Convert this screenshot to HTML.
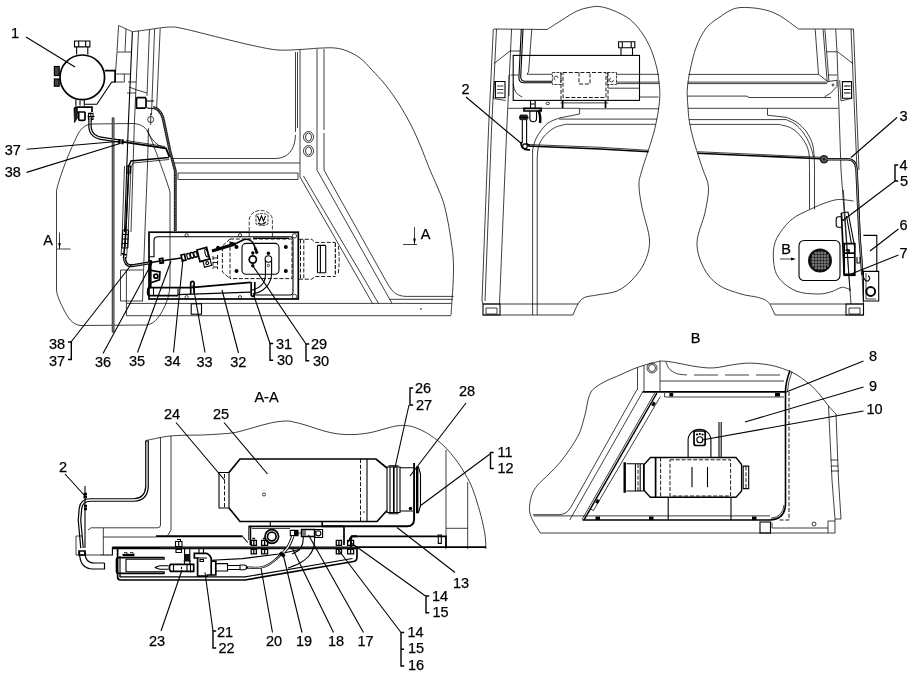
<!DOCTYPE html>
<html><head><meta charset="utf-8">
<style>
html,body{margin:0;padding:0;background:#fff;}
body{width:922px;height:679px;overflow:hidden;font-family:"Liberation Sans",sans-serif;}
svg{display:block}
.t{stroke:#000;stroke-width:.75;fill:none}
.m{stroke:#000;stroke-width:1.1;fill:none}
.k{stroke:#000;stroke-width:1.7;fill:none}
.kk{stroke:#000;stroke-width:2.4;fill:none}
.d{stroke:#000;stroke-width:.9;fill:none;stroke-dasharray:4 1.8}
.l{stroke:#000;stroke-width:1.1;fill:none}
.w{fill:#fff}
text{font-family:"Liberation Sans",sans-serif;font-size:14.5px;fill:#000;stroke:#000;stroke-width:.25px}
</style></head><body>
<svg width="922" height="679" viewBox="0 0 922 679">
<rect width="922" height="679" fill="#fff"/>
<g id="g1">
<!-- cab outline top-left view -->
<path class="t" d="M118.6,25.5 C120.9,26.5 130.1,30.7 132.4,31.7 M132.4,31.7 C135.1,31.4 142.4,30.4 148.6,29.6 C154.8,28.8 163.7,27.1 169.6,27.0 C175.5,26.9 175.6,27.0 184.0,28.8 C192.4,30.6 208.2,34.8 220.0,37.7 C231.8,40.6 245.3,44.0 255.0,46.0 C264.7,48.0 270.5,49.4 278.0,50.0 C285.5,50.6 293.3,49.8 300.0,49.5 C306.7,49.2 312.2,48.5 318.0,48.2 C323.8,48.0 330.2,47.5 335.0,48.0 C339.8,48.5 342.8,49.3 347.0,51.0 C351.2,52.7 355.8,54.8 360.0,58.0 C364.2,61.2 367.8,65.5 372.0,70.0 C376.2,74.5 381.0,79.3 385.5,85.0 C390.0,90.7 394.8,97.3 399.0,104.0 C403.2,110.7 407.4,118.0 411.0,125.0 C414.6,132.0 417.3,138.5 420.5,146.0 C423.7,153.5 427.2,163.3 430.0,170.0 C432.8,176.7 434.8,180.6 437.0,186.0 C439.2,191.4 441.7,196.5 443.5,202.5 C445.3,208.5 446.8,215.8 448.0,222.0 C449.2,228.2 450.2,234.5 451.0,240.0 C451.8,245.5 452.6,250.0 453.0,255.0 C453.4,260.0 453.5,265.0 453.5,270.0 C453.5,275.0 453.2,280.0 453.0,285.0 C452.8,290.0 452.3,295.0 452.0,300.0 C451.7,305.0 451.2,312.5 451.0,315.0"/>
<!-- pillar left group -->
<path class="t" d="M118.6,25.5 L117,51.5 M126,28.8 L125,51.5 M138.5,31 L134.3,125 L131,232 M149.4,29.6 L147,96 M154.6,29 L151.5,115 M160.2,28.5 L156.7,107"/>
<path class="m" d="M132.4,31.7 L128.3,125 L124.5,232"/>
<path class="t" d="M117,52 L131.4,52 M117,52 L115.4,74 L130.5,74 M115.4,74 L115.4,82 L124.3,82 L124.3,74"/>
<path class="t" d="M128,82 L136,82 M129,87 L137,90 L147,93 M127,93 L136,93"/>
<!-- accumulator 1 -->
<circle class="k" cx="82.300" cy="77.300" r="22.300"/>
<path class="m" d="M74.500,41 h15.400 v5.900 h-15.400 z M78.700,41 v5.900 M85.700,41 v5.900 M76.600,46.900 v7.500 M87.800,46.900 v7.500"/>
<rect x="54.400" y="66.500" width="4.800" height="9" fill="#444" stroke="#000" stroke-width="1.200"/>
<rect x="54.400" y="79" width="4.800" height="7.200" fill="#444" stroke="#000" stroke-width="1.200"/>
<path class="k" d="M104.600,70.700 H115.100 M115.100,69.800 V82.500"/>
<path class="m" d="M115,81.900 L111.600,82.200 L96.900,104.300 H85"/>
<path class="m" d="M75.900,99.500 v6.200 M84.300,99.500 v6.200 M80,100.500 v5"/>
<path class="k" d="M75.200,107.100 h16.800 v4.900 M75.200,107.100 v4.900 h10"/>
<path d="M74,108 h3.300 v10 l-2.800,4.500 z" fill="#222" stroke="#000" stroke-width=".8"/>
<path class="k" d="M78.700,112 v7 q0,1.400 1.500,1.400 h3.300 q1.500,0 1.500,-1.400 v-7"/>
<path class="m" d="M88.500,113.400 h4.500 v6 h-4.500 z M87.500,116.500 h7 M90.800,112.500 v8"/>
<!-- hose from valve -->
<path d="M90,117 V127 C90.500,135 96,138 104,138.800 L119,141" stroke="#000" stroke-width="3.500" fill="none"/>
<path d="M90,117 V127 C90.500,135 96,138 104,138.800 L119,141" stroke="#fff" stroke-width="1.100" fill="none"/>
<path class="kk" d="M119.500,139 v5 M122.500,139.300 v5"/>
<path d="M123,141.800 L166,148.300 L169.500,157" stroke="#000" stroke-width="1.8" fill="none"/>
<path class="t" d="M126,140.500 L165,146.500"/>
<path d="M169,157.500 L131,161 L128.800,166 L125.300,240 L123.500,258" stroke="#000" stroke-width="1.5" fill="none"/>
<path class="t" d="M169,159.500 L133,163 L131,168 L127.800,240 L126.500,258 M129,170 L125.800,236 M124.500,166 L122,240 L121,256"/>
<path class="m" d="M127,166 v7 h3.500 v-7 z M122.800,230 h5.800 M122.600,234.500 h5.800 M122.400,239 h5.800 M122.200,243.500 h5.800 M122,248 h5.800 M122.800,230 l-.8,18 M128.600,230 l-.8,18 M125.700,230 l-.8,18"/><path class="k" d="M121.500,253.500 l5,1.500"/>
<!-- tank outline thin -->
<path class="t" d="M56.500,290 V190.500 C60,175 70,150 78,134 C82,127 86,124.500 92,124 L133,123.500 C142,124 147,128 150,136 C156,152 166,178 170,192 V282 C170,296 166,305 160,315 C156,321 152,324.500 146,325 L80,325.500 C72,324 68,318 64,310 C60,302 57,296 56.500,290 Z"/>
<path class="t" d="M148.500,128 L147.500,165 L145,230 L142.500,301 M164,148 C156,145 150,138 147,130"/>
<!-- thick vertical bar -->
<path d="M113.100,117.500 V332.500" stroke="#222" stroke-width="2.700" fill="none"/><path d="M113.100,118.500 V331.500" stroke="#ccc" stroke-width=".700" fill="none"/>
<!-- upper fitting and grey hose -->
<path class="k" d="M136.500,97.600 h9.500 M136.500,97.600 v10.500 h9 M146,98 v10"/>
<path class="m" d="M146,101 h8 M147,108 l6,0.500"/>
<circle class="t" cx="150.700" cy="119.500" r="3"/><path class="t" d="M150.700,113 v12"/>
<path d="M153,107.500 C158,108 161,112 163,118 L170,151 L175.300,171 V231" stroke="#222" stroke-width="2.900" fill="none"/>
<path d="M153,107.500 C158,108 161,112 163,118 L170,151 L175.300,171 V231" stroke="#888" stroke-width=".900" fill="none" stroke-dasharray="1.200 1"/>
<!-- window lower-left corner & sills -->
<path class="t" d="M295.500,52 V132 M297.500,52 V128 M300,50 V177 M317,49 V170 M324,49 V130 M324,133 V170"/>
<path class="t" d="M171,158.500 H276 C288,158 295,150 295.500,135 M174,163 H300"/>
<rect class="t" x="178" y="173" width="120" height="6.500"/>
<ellipse class="t" cx="308.500" cy="137" rx="5" ry="5.500"/><ellipse class="t" cx="308.500" cy="137" rx="3" ry="4"/>
<ellipse class="t" cx="308.500" cy="151" rx="5" ry="5.500"/><ellipse class="t" cx="308.500" cy="151" rx="3" ry="4"/>
<!-- diagonals -->
<path class="t" d="M300,177 L372.500,303.400 M303.500,176 L378.500,303.400 M317,170 L392,303.400 M324,170 L386,281 C392,292 396,296 406,296.400 L453.500,296.400"/>
<path class="t" d="M389.500,299.300 H452.600"/>
<!-- floor lines -->
<path class="t" d="M126.400,303.400 H451.500 M126.400,315.700 H451 M126.400,270 V315.800 M120.500,270 H143 M120.500,270 V301 H143"/>
<circle cx="421" cy="309" r=".8" fill="#000"/>
<!-- plate -->
<rect x="149" y="232.200" width="149.300" height="66.800" fill="none" stroke="#000" stroke-width="1.700"/>
<path class="m" d="M158,236.800 H290 Q293,236.800 293,240 V291.500 Q293,295 290,295 H256 M149.500,256.800 H154 V240.300 Q154,236.800 158,236.800"/>
<g class="t">
<circle cx="186.600" cy="235.200" r="1.600"/><circle cx="240" cy="235.200" r="1.600"/><circle cx="294.500" cy="235.800" r="2.200"/>
<circle cx="186.600" cy="297.200" r="1.600"/><circle cx="240" cy="297.200" r="1.600"/><circle cx="294.500" cy="296.500" r="2.200"/>
</g>
<!-- dashed heater -->
<path class="d" d="M230,239 H292 V278.600 H230 Z M230,239 L222.400,246 V272 L230,278.600"/>
<path class="d" d="M299,239.300 H311.800 L315,242.400 H335.600 M299,279.200 H311.800 L315,276.500 H335.600 M300.500,239.500 V279 M303.800,239.500 V279 M338.300,246 Q340,259 338.300,273"/>
<path class="m" stroke-dasharray="4 1.500" d="M335.300,243 V276"/>
<path class="m" d="M317.500,245.400 H325.700 M317.500,272.800 H325.700 M317.500,245.400 V272.800 M320.400,245.400 V272.800 M325.700,245.400 V272.800"/>
<path class="t" stroke-dasharray="4 1.500" d="M249.200,231 V220 A11.600,9.600 0 0 1 272.400,220 V231 M249.200,233 v6 M272.400,233 v6"/>
<path class="t" stroke-dasharray="3 1" d="M256,215 q6,-3 12,0 v9 q-6,3 -12,0 z"/>
<path class="m" d="M257.500,216 l2,5 l2,-5 l2,5 l2,-5 M258,223 q4,3 8,-1"/>
<path d="M253,238.300 H289" stroke="#000" stroke-width="1.500" fill="none"/>
<!-- cover rounded rect -->
<rect class="m" x="242" y="243.400" width="37" height="30.800" rx="4"/>
<g fill="#000"><circle cx="236.500" cy="247" r="2"/><circle cx="285.800" cy="247" r="2"/><circle cx="236.500" cy="271" r="2"/><circle cx="285.800" cy="271" r="2"/>
<circle cx="252.800" cy="253" r="1.700"/><circle cx="252.800" cy="265.800" r="1.700"/><circle cx="268.400" cy="253.300" r="1.700"/></g>
<circle class="k" cx="252.800" cy="259.500" r="3.600"/>
<circle class="m" cx="268.400" cy="259" r="3.300"/><circle class="t" cx="268.400" cy="265.500" r="1.200"/>
<path class="m" d="M265.400,260.500 V276 C265,283 260,288.500 252,290 M271.600,260.500 V274 C271,284 264,292 254,293.500"/>
<!-- hose to pump -->
<path d="M256.500,254 L254.500,246 C252.500,240 248,238.500 244,239.500 L236,243.500" stroke="#000" stroke-width="1.600" fill="none"/>
<path class="kk" d="M255,247.500 l2.500,6"/>
<path d="M236,243.800 L212,251" stroke="#000" stroke-width="3" fill="none"/>
<circle cx="232" cy="244" r="2.200" fill="#000"/><circle cx="218" cy="247.500" r="1.800" fill="#000"/>
<!-- pump block -->
<g transform="rotate(-15 203.300 254.500)"><rect class="k" x="198.300" y="248.500" width="10" height="12"/><rect class="m" x="201.200" y="260.500" width="7.400" height="6.600"/><circle class="m" cx="204.900" cy="263.800" r="1.500"/><ellipse class="m" cx="206.700" cy="254" rx="1.300" ry="4"/></g>
<path class="d" d="M213,256 v13 M217.500,255 v14 M213,258 h4.500 M213,262.500 h4.500 M213,267 h4.500"/>
<!-- fittings left -->
<path class="k" d="M181,255 l3.500,-.800 l1.300,6 l-3.500,.800 z"/>
<path class="m" d="M185.500,254.300 l12,-3 M186.500,259.300 l12,-3"/>
<ellipse class="m" cx="188.500" cy="256.200" rx="1.500" ry="3" transform="rotate(-15 188.500 256.200)"/><ellipse class="m" cx="192" cy="255.300" rx="1.500" ry="3" transform="rotate(-15 192 255.300)"/><ellipse class="m" cx="195.500" cy="254.400" rx="1.500" ry="3" transform="rotate(-15 195.500 254.400)"/>
<path d="M124.500,257 C124.500,263 127,266 132,265.800 L150,262.800" stroke="#000" stroke-width="3.100" fill="none"/>
<path d="M124.500,257 C124.500,263 127,266 132,265.800 L150,262.800" stroke="#fff" stroke-width=".600" fill="none"/>
<path d="M150,262.600 L181.500,258" stroke="#000" stroke-width="1.500" fill="none"/>
<path d="M149,260.500 h3 v3.500 h-3 z" fill="#000"/>
<path class="k" d="M159.400,258.800 l3.300,-.500 l.7,4.400 l-3.300,.5 z"/>
<!-- mount bracket -->
<path d="M150.400,260 V287" stroke="#000" stroke-width="2.400" fill="none"/>
<path class="k" d="M151,270.300 L160,272 L159.400,279.800 L151,282.700"/><circle class="k" cx="155.900" cy="276.200" r="2"/>
<!-- bottom pipe -->
<path d="M190.600,287.600 H150.500 Q147.700,287.600 147.700,290.200 V293.200 Q147.700,295.700 150.500,295.700 H178" stroke="#000" stroke-width="1.700" fill="none"/>
<path class="k" d="M190.600,287.600 L250.600,282.300"/><path class="m" d="M178,294.600 L250.600,292.100"/>
<path class="m" d="M153.500,288 v7.700 M178,288.500 v7"/>
<path class="k" d="M190.700,294 V283 a1.700,1.700 0 0 1 3.400,0 V294 M251.200,282 V294.500 a1.800,1.800 0 0 0 3.600,0 V282"/>
<rect class="m" x="191.200" y="303.800" width="10.300" height="10.400"/>
<!-- section arrows A -->
<path class="t" d="M59.500,232.500 V249 M57,249 H70.500"/><path d="M59.500,249 l-1.300,-6 h2.600 z" fill="#000"/>
<path class="t" d="M414.500,227 V244.500 M403,244.500 H417"/><path d="M414.500,244.500 l-1.300,-6 h2.600 z" fill="#000"/>
</g>
<g id="g2">
<!-- ===== top middle view ===== -->
<path class="t" d="M493.800,29 L547.200,29.500 M547.2,29.5 C549.7,27.9 557.0,23.1 562.0,20.0 C567.0,16.9 572.3,13.1 577.0,11.0 C581.7,8.9 586.2,8.0 590.0,7.3 C593.8,6.6 595.9,6.0 600.0,6.6 C604.1,7.2 609.8,8.9 614.7,11.0 C619.6,13.1 625.1,15.7 629.5,19.1 C633.9,22.6 637.8,27.0 641.2,31.7 C644.6,36.4 647.5,41.6 650.0,47.1 C652.5,52.6 654.5,59.1 656.0,64.8 C657.5,70.5 658.3,75.1 658.9,81.0 C659.5,86.9 660.3,91.8 659.6,100.0 C658.9,108.2 657.4,118.3 654.5,130.0 C651.6,141.7 644.6,160.8 642.0,170.0 C639.4,179.2 639.0,178.8 639.0,185.0 C639.0,191.2 640.2,198.3 642.0,207.5 C643.8,216.7 649.1,230.8 649.5,240.0 C649.9,249.2 647.4,255.8 644.5,262.5 C641.6,269.2 636.6,275.2 632.0,280.0 C627.4,284.8 622.8,288.5 617.0,291.0 C611.2,293.5 602.4,293.9 597.0,295.0 C591.6,296.1 587.7,296.0 584.5,297.5 C581.3,299.0 579.9,301.1 578.0,304.0 C576.1,306.9 573.8,313.2 573.0,315.0"/>
<path class="t" d="M493.300,29 L488.500,130 L482,301 M496.500,29 L491.500,130 L485,301 M511.600,29 L506.700,130 L499.500,304"/>
<path class="t" d="M482,301 l1,3"/>
<path class="m" d="M521.300,29 L518.900,78 Q519,82.800 524,82.800 H552 M523,29 L520.700,77 Q521,81.300 525,81.300 H552"/>
<path class="t" d="M531.800,29 L528.600,71.800 L527,74.300 H552"/>
<path class="t" d="M493.800,63.700 L510,51 H520.500 M509,75 V96 M510.500,75 h8 M513.200,84 q1,10 9,13"/>
<rect class="m" x="513.200" y="55.400" width="126.300" height="45"/>
<path class="m" d="M618.600,41.800 h16.200 v5.900 h-16.200 z M621,47.700 v7.700 M632.500,47.700 v7.700 M622.300,41.800 v5.900 M631.200,41.800 v5.900"/>
<path class="t" d="M616.500,74.300 H659 M616.500,82.100 H659.300 M616.500,83.600 H659.300 M560.500,102.900 H608.300"/>
<path class="d" d="M563,72.500 H606 V97.500 H563 Z M579,72.500 V84 H590 V72.500 M561,72.500 V100 M608,72.500 V100"/>
<path class="t" stroke-dasharray="3 1" d="M552.400,72.500 h8.500 v12 h-8.500 z M607.500,72.500 h9 v12 h-9 z"/>
<path class="t" d="M558,78 a2,2 0 1 0 -2.500,2 M611,78 a2,2 0 1 0 2.500,2"/>
<path class="k" d="M562.600,100 V108 M605.500,100 V108"/>
<path class="t" d="M508.300,108.300 H579.600 V114 L559.400,118 M559.4,118.0 C557.5,118.8 551.2,120.7 548.0,123.0 C544.8,125.3 542.2,129.0 540.0,132.0 C537.8,135.0 536.2,138.0 535.0,141.0 C533.8,144.0 533.0,148.5 532.6,150.0 V315"/>
<path class="t" d="M579.600,108.800 H659 M559,119.100 H657 M567,124.300 H655.500 M608.300,88.200 H639.300 M639.500,97 H658.600 M567.0,124.0 C564.8,124.7 557.9,125.8 554.0,128.0 C550.1,130.2 546.1,133.8 543.5,137.0 C540.9,140.2 539.5,143.5 538.5,147.0 C537.5,150.5 537.4,156.2 537.2,158.0 V315"/>

<path class="m" d="M495.400,81.500 h9.600 v16.200 h-9.600 z"/><path class="t" d="M497,86 h6.500 M497,89.500 h6.500 M497,93 h6.500"/>
<path class="t" d="M494.500,81 l-1,17.500 l12,2"/>
<ellipse class="t" cx="547.700" cy="103.400" rx="1.800" ry="1.200"/>
<!-- valve -->
<path class="m" d="M530.500,100.500 v7.500 M535.200,100.500 v7.500 M531,104 h4"/><path class="k" d="M524,108.400 h17.200 v2.600 h-17.200 z"/><path class="m" d="M529.900,111 v7.500 q0,3.200 3.300,3.200 q3.300,0 3.300,-3.200 v-7.500"/>
<path d="M538.500,110 q2.500,7 1.500,13" stroke="#000" stroke-width="2.400" fill="none"/>
<path d="M520,115 h7.200 v4.700 h-7.200 z" fill="#333" stroke="#000" stroke-width=".8"/><path class="k" d="M519,117.500 h9.500"/>
<path class="m" d="M522.300,120 V143 M526.600,120 V143"/>
<path class="k" d="M521.300,142 Q520,150.500 530,149.800 M526.600,143 Q526.800,145 529.500,144.800"/>
<circle class="m" cx="525" cy="146.200" r="2.300"/>
<path d="M527.500,146 L600,149 L648.500,151.800" stroke="#000" stroke-width="1.600" fill="none"/>
<path class="t" d="M528,144.500 L600,147.300 L648.500,150.300"/>
<!-- bottom -->
<path class="t" d="M483,304 H578 M483,315 H573"/>
<path class="m" d="M483,304 h17 v11 h-17 z"/><path class="t" d="M486,308 h11 v6 h-11 z"/>
<!-- ===== top right view ===== -->
<path class="t" d="M853.500,29 H798.500 M798.5,29.0 C795.2,26.7 784.8,18.3 778.5,15.0 C772.2,11.7 767.2,10.2 761.0,9.0 C754.8,7.8 746.2,7.2 741.0,7.5 C735.8,7.8 733.5,8.9 730.0,10.5 C726.5,12.1 723.5,14.5 720.0,16.9 C716.5,19.3 712.1,21.9 709.0,25.0 C705.9,28.1 703.8,31.4 701.6,35.3 C699.4,39.2 697.4,43.7 695.7,48.6 C694.0,53.5 692.5,59.6 691.3,64.8 C690.1,70.0 689.1,75.1 688.4,79.5 C687.7,83.9 687.3,87.0 687.2,91.3 C687.1,95.5 687.4,99.9 687.8,105.0 C688.2,110.1 688.4,116.1 689.4,121.9 C690.4,127.7 691.8,133.7 693.5,140.0 C695.2,146.3 698.1,155.0 699.7,160.0 C701.3,165.0 701.5,165.4 703.0,170.0 C704.5,174.6 708.2,180.4 708.5,187.5 C708.8,194.6 706.9,203.3 705.0,212.5 C703.1,221.7 697.2,233.3 697.0,242.5 C696.8,251.7 699.9,260.4 703.5,267.5 C707.1,274.6 712.2,280.6 718.5,285.0 C724.8,289.4 734.3,291.9 741.0,294.0 C747.7,296.1 753.9,296.1 758.5,297.5 C763.1,298.9 765.8,299.6 768.5,302.5 C771.2,305.4 773.9,312.9 775.0,315.0"/>
<path class="t" d="M688.500,74.400 H818.500 M687.800,82.100 H828 M687.700,83.600 H827 M687.300,96.100 H747 L749,97.500 H831 M688,108.300 H838.500 M689,119.600 H786 M690,124.400 H779.300"/>
<path class="t" d="M815.200,29.300 L818.500,74.300 L827.800,81.600 M835.700,29.300 L837,51.800 L839,110 L841,170 L851,304 M851,29 L857,170 L863.500,304 M853.500,29 L859,170 M826.400,51.800 H837.700 L853,63.700 M828,75 H837"/>
<path class="t" d="M823.100,29.300 L827.100,81 M824.900,29.300 L828.900,81"/>
<path class="t" d="M827.800,81.600 L837,80.300 V86.300 L831,92.900 L824.500,96.900"/><circle class="t" cx="833" cy="85" r="1"/>
<path class="m" d="M842.400,81.600 h9.200 v16.600 h-9.200 z"/><path class="m" d="M844,86 h6.500 M844,89.500 h6.500 M844,93 h6.500"/><path class="t" d="M839.700,80.300 l1.300,20.600 l11.300,-2.700"/>
<path class="t" d="M767.500,108.300 V115.200 L786.600,117.400 M786.6,117.4 C788.3,118.2 793.7,120.1 797.0,122.5 C800.3,124.9 803.8,128.1 806.5,132.0 C809.2,135.9 811.7,140.5 813.0,146.0 C814.3,151.5 814.2,161.8 814.5,165.0 V209.400 M786.0,119.6 C787.5,120.3 792.1,121.8 795.0,124.0 C797.9,126.2 801.0,129.5 803.5,133.0 C806.0,136.5 808.3,141.0 810.0,145.0 C811.7,149.0 812.9,155.0 813.5,157.0"/>
<path class="t" d="M779.3,124.4 C781.4,125.1 788.2,126.2 792.0,128.5 C795.8,130.8 799.2,134.2 802.0,138.0 C804.8,141.8 807.2,145.7 808.5,151.0 C809.8,156.3 809.3,166.8 809.5,170.0 V209"/>
<path d="M697.500,153.200 L821,158.800" stroke="#000" stroke-width="1.600" fill="none"/><path class="t" d="M697.500,151.700 L821,157.300"/>
<circle cx="824" cy="159.200" r="4.300" fill="#222"/><circle cx="824" cy="159.200" r="2.200" fill="none" stroke="#aaa" stroke-width=".7"/>
<path d="M827,159.300 H848 Q855.500,159.500 856.500,168.900 L859.700,240 L861.500,262 L862.300,275" stroke="#000" stroke-width="2.500" fill="none"/><path d="M827,159.300 H848 Q855.500,159.500 856.500,168.900 L859.700,240 L861.500,262 L862.300,275" stroke="#fff" stroke-width=".600" fill="none"/>

<!-- cutout -->
<path class="t" d="M853.5,201.0 C851.0,200.8 843.2,199.2 838.5,199.5 C833.8,199.8 829.6,201.4 825.0,203.0 C820.4,204.6 816.7,206.2 811.0,209.0 C805.3,211.8 796.8,214.8 791.0,220.0 C785.2,225.2 778.9,233.3 776.0,240.0 C773.1,246.7 773.1,253.8 773.5,260.0 C773.9,266.2 774.8,272.3 778.5,277.5 C782.2,282.7 789.3,288.2 796.0,291.0 C802.7,293.8 812.5,293.9 818.5,294.0 C824.5,294.1 828.2,292.6 832.0,291.5 C835.8,290.4 838.7,288.1 841.0,287.5 C843.3,286.9 844.3,287.6 846.0,288.0 C847.7,288.4 850.2,289.7 851.0,290.0"/>
<rect class="m" x="799" y="240.500" width="41" height="40" rx="5"/>
<circle cx="820" cy="260.500" r="12" fill="#111"/>
<path d="M812,256 h16 M811,259 h18 M811,262 h18 M812,265 h16 M814,268 h12 M814,253 h12 M816,252 v17 M819,251 v19 M822,251 v19 M825,252 v17 M813,254 v13 M828,254 v13" stroke="#ddd" stroke-width=".55" fill="none"/>
<path class="t" d="M780,259 H793"/><path d="M796,259 l-5,-1.500 v3 z" fill="#000"/>
<!-- bracket/pump -->
<path class="k" d="M841.400,213 L844.200,274.200"/>
<path class="m" d="M841.400,213 L848,212 L854.800,247.400 M846.500,216 L851.500,244"/>
<path class="m" d="M841.400,216.800 h-3 q-2.200,0 -2.200,2.500 v5.500 q0,2.500 2.200,2.500 h3.300"/><circle cx="843.200" cy="220" r="1" fill="#000"/>
<path class="k" d="M844.200,243.600 h10.600 v31.600 h-10.600 z"/>
<path class="k" d="M844.500,253.200 h10 M845.500,250 h3.500 v3"/><path class="m" d="M844.500,257.500 h10"/>
<path d="M844.500,274.800 h10" stroke="#000" stroke-width="2.600" fill="none"/>
<path class="m" d="M857,257 v6 h3 v-6"/>
<path class="t" d="M843.300,190 L850,291.500"/>
<path class="m" d="M863.400,235.400 H876.800 V271.400 M863.400,271.400 H878.700 V301 H863.400 Z"/>
<path class="t" d="M866,273 V299 h10"/>
<circle cx="870.700" cy="291.500" r="4.400" fill="none" stroke="#000" stroke-width="2"/>
<path class="m" d="M862.500,270 q.5,12 5.500,11 q3.500,-2.500 0,-5.500"/>
<path class="t" d="M770,304 H863.500 M775,315 H863.500 V304"/>
<path class="m" d="M846,304 h17.500 v11 h-17.500 z"/><path class="t" d="M849,308 h11 v6 h-11 z"/>
</g>
<g id="g3">
<!-- ===== A-A section ===== -->
<path class="t" d="M146.0,440.5 C148.0,440.1 154.0,438.8 158.0,438.0 C162.0,437.2 165.3,436.5 170.0,436.0 C174.7,435.5 180.6,435.4 186.0,435.2 C191.4,435.0 196.8,435.2 202.5,435.0 C208.2,434.8 214.6,434.4 220.0,434.0 C225.4,433.6 229.7,433.5 235.0,432.5 C240.3,431.5 246.1,429.6 252.0,428.0 C257.9,426.4 264.8,424.2 270.5,423.0 C276.2,421.8 281.8,421.1 286.0,421.0 C290.2,420.9 292.2,421.7 296.0,422.5 C299.8,423.3 303.8,424.6 308.5,426.0 C313.2,427.4 319.0,429.7 324.0,431.0 C329.0,432.3 333.3,433.4 338.5,434.0 C343.7,434.6 349.6,434.8 355.0,434.5 C360.4,434.2 366.2,433.4 371.0,432.5 C375.8,431.6 379.8,430.1 384.0,429.0 C388.2,427.9 392.5,426.6 396.0,426.0 C399.5,425.4 402.1,425.3 405.0,425.5 C407.9,425.7 410.3,426.0 413.5,427.0 C416.7,428.0 420.7,429.8 424.0,431.5 C427.3,433.2 430.0,434.9 433.5,437.5 C437.0,440.1 441.2,443.2 445.0,447.0 C448.8,450.8 452.8,455.8 456.0,460.0 C459.2,464.2 461.5,467.8 464.0,472.0 C466.5,476.2 468.8,480.0 471.0,485.0 C473.2,490.0 475.2,496.2 477.0,502.0 C478.8,507.8 480.7,514.5 482.0,520.0 C483.3,525.5 484.3,530.2 485.0,535.0 C485.7,539.8 485.8,546.7 486.0,549.0"/>
<!-- wall double line -->
<path d="M147,440.500 V487 Q146,499.500 134,500 H90 Q82,500 80.500,508 L79.500,520 L82,548" stroke="#000" stroke-width="3.700" fill="none"/>
<path d="M147,441.500 V487 Q146,499.500 134,500 H90 Q82,500 80.500,508 L79.500,520 L82,548" stroke="#fff" stroke-width="1.300" fill="none"/>
<path class="t" d="M160.500,437.500 V525 Q160.500,527.800 157.500,527.800 H91 M171,436 V530 L167.700,535.500 M103.300,527.800 V555 M76,536 V555 H100 M76,536 h6 M91,527.800 L88,530"/>
<path class="m" d="M85,486 V548"/><path class="kk" d="M83.500,494 h3.500 M83.500,497 h3.500 M84,506 h3 M84,509 h3"/>
<path d="M79.500,552 Q79.500,569 93,569 H104.500 V563" stroke="#000" stroke-width="1.200" fill="none"/>
<path d="M85,552 Q85,563 94,563 H104.500" stroke="#000" stroke-width="1.200" fill="none"/>
<path class="k" d="M79,551 h6 v4 h-6 z"/>
<!-- heater body -->
<path class="k" d="M229,472.500 L240,459 H376 L387,468 M229,508 L240,521.500 H377 L387,510.500"/>
<path class="m" d="M219,472.500 h10 v35.500 h-10 z"/><path class="d" d="M224.500,474 V507"/>
<path class="m" d="M367,459 V521.500"/><path class="d" d="M360.500,459 V521.500"/><circle cx="364" cy="512" r=".7" fill="#000"/>
<circle class="t" cx="264" cy="494.500" r="1.500"/>
<!-- clamp & outlet pipe -->
<path class="m" d="M387,467 h13 v45.500 h-13 z M390,467 v45.500 M397,467 v45.500 M388.500,465.800 h10 M388.500,513.800 h10"/>
<path class="k" d="M393.800,467 v45.500"/>
<path class="m" d="M400,467.800 H413 M400,511 H413"/>
<path d="M414.100,463 V519 Q414,526.300 407,526.300 H322" stroke="#000" stroke-width="1.900" fill="none"/>
<path class="m" d="M322,521.500 V526.300"/>
<path d="M417.200,466.500 V513.300" stroke="#000" stroke-width="2.400" fill="none"/><path class="m" d="M418.300,466.500 L420.500,474 V506 L418.300,513"/>
<circle cx="410.500" cy="508.500" r="1.800" fill="#000"/>
<path class="t" d="M446,450 V549 M467.700,482 V549 M446,528.300 H467.700"/>
<!-- thin pipe 13 -->
<path class="k" d="M351,547 V538 Q351,536.300 353,536.300 H446 V547"/>
<path class="m" d="M437.500,535 h4.500 M438.300,535 v8.400 h3 v-8.400"/>
<!-- stands under heater -->
<path class="m" d="M270.300,521.500 V526.400 M322.400,521.500 V526.400"/>
<path class="k" d="M248.600,526.400 H344 M250.400,526.400 V545 M344,526.400 V545"/>
<path class="t" d="M248.600,526.400 V540 M252,528.500 H290 M298,533 H301.600"/>
<circle class="k" cx="271.800" cy="536.500" r="6.800"/><circle class="k" cx="271.800" cy="536.500" r="4.300"/>
<path class="m" d="M290.300,530.400 h7.700 v5.200 h-7.700 z"/><rect x="294" y="530.400" width="4" height="5.200" fill="#000"/>
<path class="k" d="M301.600,529.500 h13 v7 h-13 z"/><rect x="302" y="530" width="4" height="6" fill="#777"/>
<path class="m" d="M314.600,529.500 h8 v8 h-8 z"/><circle class="m" cx="318.300" cy="533.300" r="2.600"/>
<!-- upper thick side rails -->
<path d="M156,536.300 H242.500 M351,536.300 H357" stroke="#000" stroke-width="2" fill="none"/>
<path class="m" d="M242.500,536.500 L247.800,542.500 M351,536.500 L348.400,542"/>
<!-- main plate -->
<path d="M112.400,547.800 H358" stroke="#000" stroke-width="2.700" fill="none"/><path d="M357,547.200 H486" stroke="#000" stroke-width="1.800" fill="none"/>
<path d="M160,547.800 H355" stroke="#666" stroke-width=".5" fill="none"/>
<path class="m" d="M112.400,547 V555 H100"/>
<path class="t" d="M103.300,537 H156"/>
<!-- bolts -->
<g class="m"><path stroke-width="1.300" d="M251.200,540.300 h5.200 v5 h-5.200 z M261.600,540.300 h6 v5 h-6 z M336.300,540.300 h5.200 v5 h-5.200 z M347.600,540.300 h6 v5 h-6 z M251.200,549.300 h5.200 v4.500 h-5.200 z M261.600,549.300 h6 v4.500 h-6 z M336.300,549.300 h5.200 v4.500 h-5.200 z M347.600,549.300 h6 v4.500 h-6 z M253.800,540.300 v5 M264.600,540.300 v5 M338.900,540.300 v5 M350.600,540.300 v5 M253.800,549.300 v4.500 M264.600,549.300 v4.500 M338.900,549.300 v4.500 M350.600,549.300 v4.500 M252.500,538.500 h2.600 M263,538.500 h3.200 M349,538.500 h3.200"/>
<path d="M175.500,541.500 h6.500 v5 h-6.500 z M177,539.500 h3.500 v2 M176,549.500 h5.500 v3 h-5.500 z M178.700,541.500 v5"/></g>
<!-- tray -->
<path class="k" d="M117.600,548.500 V577 Q117.600,580 120.500,580 H245 L353.600,561.500 Q357,561 357,557 V549"/>
<path class="m" d="M120,556 V576.900 H245 L352.500,558.500"/>
<path class="m" d="M211,560.200 L242.500,558.600 L279,554 L300,549.500"/>
<!-- cylinder -->
<path class="k" d="M126,557.700 H164.400 M126,573.400 H164.400 M126,557.700 H119 Q116.500,557.700 116.500,560 V571 Q116.500,573.400 119,573.400 H126"/>
<path class="m" d="M126,559 V572 M126,559.300 H164 M126,571.800 H164 M164.400,557.700 V559.500 M164.400,571.500 V573.400"/>
<path class="kk" d="M122.500,555 H134.500"/><path class="t" d="M124,552.500 h3 v2 M130,552.500 h3 v2 M120,575 v2"/>
<path class="m" d="M154.700,567.500 l5,-1.800 h9 M154.700,567.500 l5,1.800 h9"/>
<path class="k" d="M170.500,564.300 H193.700 V571.400 H170.500 Q168.300,567.800 170.500,564.300 Z"/>
<path class="m" d="M173.500,564.300 v7.100 M187,564.300 v7.100 M190.500,563 v9.500 M181.500,567 v2"/>
<rect x="184.600" y="554" width="5.200" height="7" fill="#111"/><path class="m" d="M184.600,549 v15 M189.800,549 v15 M183.500,561 h7.500"/>
<path class="k" d="M194.300,553.400 H206 Q208.500,553.400 211.200,558 V575 H207.500 V576.200 H197.600 V558 H194.300 Z"/>
<path class="m" d="M197.600,558 H207 M200,559.500 h3.500 v2 h-3.500 z M199,549 v4.400 M203.500,549 v4.400"/>
<path class="k" d="M211.200,561.200 h4.600 v13.800 h-4.600"/>
<path class="m" d="M215.800,563.600 H227.500 V571 H215.800 M227.500,565.500 H240 M227.500,569.500 H240 M240,565 h4.500 l1.900,1 v2.700 l-1.900,1 h-4.500 z"/>
<!-- hose 20 -->
<path d="M246.4,567.6 C247.7,567.6 251.6,567.8 254.0,567.8 C256.4,567.8 258.4,568.0 260.7,567.5 C263.0,567.0 265.6,566.2 268.0,565.0 C270.4,563.8 272.8,561.8 275.0,560.0 C277.2,558.2 280.4,555.0 281.5,554.0" stroke="#000" stroke-width="2.200" fill="none"/>
<path d="M248.0,567.6 C249.0,567.6 251.9,567.8 254.0,567.8 C256.1,567.8 258.4,568.0 260.7,567.5 C263.0,567.0 265.6,566.2 268.0,565.0 C270.4,563.8 272.9,561.7 275.0,560.0 C277.1,558.3 279.6,555.8 280.5,555.0" stroke="#fff" stroke-width=".800" fill="none"/>
<path d="M280,552.500 l4.500,4" stroke="#000" stroke-width="3.400" fill="none"/>
<path d="M283.5,552.5 C284.2,551.6 286.8,548.9 288.0,547.0 C289.2,545.1 290.2,542.8 291.0,541.0 C291.8,539.2 292.5,536.8 292.8,536.0" stroke="#000" stroke-width="3.200" fill="none"/>
<path d="M283.5,552.5 C284.2,551.6 286.8,548.9 288.0,547.0 C289.2,545.1 290.2,542.8 291.0,541.0 C291.8,539.2 292.5,536.8 292.8,536.0" stroke="#fff" stroke-width="1.400" fill="none"/>
<!-- hose 18 -->
<path class="m" stroke-width="1.300" d="M303.3,537.0 C303.2,538.2 303.2,541.8 302.5,544.0 C301.8,546.2 300.8,548.3 299.0,550.0 C297.2,551.7 293.2,553.3 292.0,554.0 M314.6,537.5 C314.4,539.2 314.6,544.8 313.5,548.0 C312.4,551.2 310.4,554.4 308.0,557.0 C305.6,559.6 302.3,561.7 299.0,563.5 C295.7,565.3 289.8,567.2 288.0,568.0"/>
</g>
<g id="g4">
<!-- ===== View B ===== -->
<path class="t" d="M660.0,361.0 C657.5,361.7 649.7,363.6 645.0,365.0 C640.3,366.4 636.2,367.8 632.0,369.5 C627.8,371.2 624.3,373.1 620.0,375.0 C615.7,376.9 610.0,379.0 606.0,381.0 C602.0,383.0 598.5,385.2 596.0,387.0 C593.5,388.8 592.3,389.8 591.0,392.0 C589.7,394.2 588.8,396.9 588.0,400.0 C587.2,403.1 586.8,406.9 586.0,410.6 C585.2,414.3 584.2,418.1 583.0,422.0 C581.8,425.9 581.2,429.5 579.0,434.0 C576.8,438.5 573.2,444.3 570.0,449.0 C566.8,453.7 563.5,458.2 560.0,462.4 C556.5,466.6 552.5,470.5 549.0,474.0 C545.5,477.5 541.6,480.8 539.0,483.6 C536.4,486.4 534.8,488.6 533.5,491.0 C532.2,493.4 531.6,495.4 531.0,497.7 C530.4,500.0 529.9,502.6 529.7,505.0 C529.5,507.4 529.2,509.3 529.7,512.0 C530.2,514.7 531.2,517.5 533.0,521.0 C534.8,524.5 539.1,531.0 540.3,533.0 H835"/>
<path class="t" d="M660.0,361.0 C661.3,361.1 665.0,361.1 668.0,361.5 C671.0,361.9 672.9,362.2 677.7,363.1 C682.5,364.0 690.8,365.9 696.8,366.7 C702.8,367.5 707.5,368.2 713.5,367.9 C719.5,367.6 726.6,365.6 732.6,364.8 C738.6,364.0 743.3,363.1 749.3,363.1 C755.3,363.1 762.8,363.9 768.4,364.8 C774.0,365.7 777.9,366.9 782.7,368.6 C787.5,370.3 792.2,372.1 797.0,375.0 C801.8,377.9 807.6,382.5 811.4,385.8 C815.2,389.1 817.1,391.6 820.0,395.0 C822.9,398.4 825.8,402.8 828.5,406.0 C831.2,409.2 834.8,412.7 836.0,414.0"/>
<path class="t" d="M665.8,362.0 C666.2,362.8 667.1,365.6 668.0,367.0 C668.9,368.4 669.4,369.4 671.0,370.5 C672.6,371.6 675.0,373.1 677.7,373.9 C680.4,374.6 685.5,374.8 687.0,375.0"/>
<path class="t" d="M637.500,367.500 V390 M644,365.500 V391 M660,361 V391.500 M637,389.500 L571,507 Q567,514.500 559,514.700 H533 M642.700,391.800 L569.700,520.100"/>
<circle class="t" cx="652" cy="368" r="5"/><circle class="t" cx="652" cy="368" r="3.500"/>
<path class="t" stroke-dasharray="24 7" d="M694,375 H783.500"/>
<path class="t" d="M660,381 H784"/>
<path d="M642.500,391.800 H785" stroke="#000" stroke-width="1.800" fill="none"/>
<path class="t" d="M664.600,397 H784 M664.600,393 V397"/>
<rect x="669.400" y="393" width="3.800" height="3.500" fill="#000"/><rect x="775" y="393" width="5" height="3.500" fill="#000"/>
<path d="M656.900,393 L583.900,520.100" stroke="#000" stroke-width="1.500" fill="none"/>
<path class="t" d="M655,392.500 L582,519.500 M660.400,396.500 L593.300,510.700 L589.700,508.300"/>
<rect x="-2" y="-1.500" width="4" height="3" fill="#000" transform="translate(653.500,404) rotate(-59)"/>
<rect x="-2" y="-1.500" width="4" height="3" fill="#000" transform="translate(597.500,501.500) rotate(-59)"/>
<!-- right frame -->
<path d="M790,370.500 Q786,381 785.500,390 V504 Q785,519.500 770,520 H582.500" stroke="#000" stroke-width="1.600" fill="none"/>
<path class="t" d="M792,371.500 Q788,382 787.500,391"/>
<path class="d" d="M789,392 V520 H778"/>
<path class="t" d="M784,505 Q783,517 771,518.200 M533.500,515.900 H770"/>
<path class="t" d="M828.500,406 L832,480 L835,519 M836,414 L838.500,480 L841,519 H835 M835,519 V533 M828,521 H835 M828,521 V533 M772,522.500 V528 H828"/>
<path class="t" d="M830.500,460 h7.500 M831,466 h7.500 M831,471 h8"/>
<rect class="m" x="760" y="522" width="10.500" height="11"/>
<circle class="t" cx="814" cy="524" r="2"/>
<rect x="752" y="516.500" width="4.500" height="3.500" fill="#000"/><rect x="595.500" y="516.500" width="4.500" height="3.500" fill="#000"/><rect x="649" y="516.500" width="4.500" height="3.500" fill="#000"/>
<!-- bracket 10 -->
<path class="m" d="M688.100,457.500 V440 A11.400,10.800 0 0 1 710.900,440 V457.500"/>
<rect class="k" x="694" y="431" width="11.200" height="14.500" rx="2"/><circle class="m" cx="699.800" cy="439.800" r="3"/>
<circle cx="697" cy="434.500" r="1.100" fill="#000"/><circle cx="699.800" cy="434" r="1.100" fill="#000"/><circle cx="702.600" cy="434.500" r="1.100" fill="#000"/>
<path class="m" d="M719,422 V457 M721.200,422 V457"/>
<!-- heater B -->
<path d="M650.400,457.500 H736 L741.600,464.500 V491 L736,497.200 H650.400 L644.100,490.500 V464.500 Z" stroke="#000" stroke-width="1.350" fill="none"/>
<path class="k" d="M655.600,457.500 V497.200"/>
<path class="d" d="M660.600,457.500 V497 M670,459.800 H730.600 V496 H670 Z M638,464 V491"/>
<path class="m" d="M692,467 V487.300 M707.500,467 V487.300"/>
<path class="kk" d="M624.700,462.200 V492.800"/>
<path class="m" d="M626.500,463.700 H643.500 M626.500,491 H643.500 M635.400,463.700 V491 M640.200,463.700 V491 M643.500,463.700 V491"/>
<path class="m" d="M743.200,466.100 h5.500 v22.500 h-5.500 z"/><path class="d" d="M746,466.500 v22"/>
<path class="m" d="M668.200,497 V520 M731,497 V520"/>
</g>
<g id="g5">
<g class="l">
<path d="M26,37 L75,67"/>
<path d="M26.600,149.200 L120,141.300"/>
<path d="M26.600,172.400 L120,143.500"/>
<path d="M466,97 L522,144"/>
<path d="M897,117.500 L851,157.500"/>
<path d="M895,181 L843.500,220"/>
<path d="M898.500,229 L870,251"/>
<path d="M898.500,255 L851,274"/>
<path d="M863.500,361 L785,392.500"/>
<path d="M863.500,387 L745,422"/>
<path d="M863.500,411 L702,440"/>
<path d="M490,454 L420,506"/>
<path d="M397,527.500 L455,572.500"/>
<path d="M350.500,542.500 L425.500,596"/>
<path d="M338.500,550 L401,632.500"/>
<path d="M308.500,535 L363.500,632.500"/>
<path d="M292,547.500 L333.500,632.500"/>
<path d="M283.500,556 L302,632.500"/>
<path d="M272.500,632.500 L261,568"/>
<path d="M213,631 L205,572.500"/>
<path d="M161,631 L182,570"/>
<path d="M176,422.500 L224.500,480"/>
<path d="M224,422.500 L267.500,474"/>
<path d="M65,474 L85,496"/>
<path d="M409,405 L395,467.500"/>
<path d="M466,403 L410,476"/>
<path d="M71,342 L132,264"/>
<path d="M103,353.500 L152,263"/>
<path d="M137.500,352.500 L171,261"/>
<path d="M173.500,352.500 L183,259"/>
<path d="M205,352.500 L193,285"/>
<path d="M238.500,353 L222,290"/>
<path d="M270,343.500 L253,293"/>
<path d="M306,344 L253,266"/>
</g><g class="l" stroke-width="1.400" style="stroke-width:1.4">
<path d="M68,342 h3.300 v17.500 h-3.300"/>
<path d="M273.200,343.500 h-3.200 v16.800 h3.200"/>
<path d="M309.200,344 h-3.200 v16.800 h3.200"/>
<path d="M898.200,165 h-3.200 v16 h3.200"/>
<path d="M413.200,388 h-3.200 v17 h3.200"/>
<path d="M493.700,452.500 h-3.200 v16 h3.200"/>
<path d="M429.200,596 h-3.200 v16.700 h3.200"/>
<path d="M404.200,632.500 h-3.200 v33.500 h3.200 M401,649.300 h3"/>
<path d="M216.200,631 h-3.200 v17 h3.200"/>
</g>
<filter id="nf" x="-5%" y="-5%" width="110%" height="110%"><feOffset dx="0" dy="0"/></filter><g text-anchor="middle" filter="url(#nf)">
<text x="15" y="38">1</text>
<text x="12.800" y="154.600">37</text>
<text x="12.800" y="177.400">38</text>
<text x="465.500" y="94">2</text>
<text x="903.500" y="121">3</text>
<text x="903.500" y="170">4</text>
<text x="904" y="186">5</text>
<text x="903.500" y="230">6</text>
<text x="903.500" y="258">7</text>
<text x="873" y="360.500">8</text>
<text x="873" y="391">9</text>
<text x="874.500" y="414">10</text>
<text x="505" y="456.500">11</text>
<text x="505.500" y="472.500">12</text>
<text x="461" y="588">13</text>
<text x="440" y="601">14</text>
<text x="440.500" y="617">15</text>
<text x="415.500" y="637">14</text>
<text x="416" y="652.500">15</text>
<text x="416" y="669.500">16</text>
<text x="365.500" y="646">17</text>
<text x="336" y="646">18</text>
<text x="304" y="646">19</text>
<text x="274" y="646">20</text>
<text x="225" y="637">21</text>
<text x="226.500" y="652.500">22</text>
<text x="157" y="646">23</text>
<text x="172" y="419">24</text>
<text x="221" y="419">25</text>
<text x="423" y="393">26</text>
<text x="424" y="409.500">27</text>
<text x="467" y="396">28</text>
<text x="63" y="472">2</text>
<text x="57" y="349">38</text>
<text x="57" y="365.500">37</text>
<text x="103" y="367">36</text>
<text x="137" y="365.500">35</text>
<text x="172.400" y="366">34</text>
<text x="204.600" y="367">33</text>
<text x="238.300" y="367">32</text>
<text x="284" y="349">31</text>
<text x="285" y="365">30</text>
<text x="319" y="349">29</text>
<text x="321" y="365.500">30</text>
<text x="266.500" y="401.700">A-A</text>
<text x="48" y="245">A</text>
<text x="425.500" y="238.500">A</text>
<text x="786" y="254">B</text>
<text x="695.500" y="343">B</text>
</g>
</g>
</svg>
</body></html>
